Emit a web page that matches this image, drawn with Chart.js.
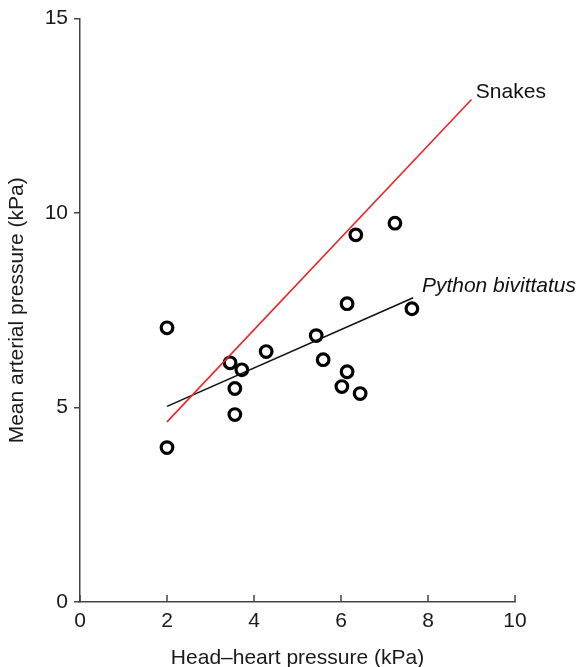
<!DOCTYPE html>
<html>
<head>
<meta charset="utf-8">
<script src="https://cdn.jsdelivr.net/npm/chart.js@4/dist/chart.umd.min.js"></script>
<style>
  body { margin: 0; background: #fff; }
  canvas { display: block; }
</style>
</head>
<body>
<canvas id="myChart" width="580" height="667"></canvas>
<script>
// measured points (kPa)
const headHeart    = [2.0, 2.0, 3.45, 3.72, 3.56, 3.56, 4.28, 5.43, 5.59, 6.14, 6.14, 6.02, 6.44, 6.34, 7.24, 7.63];
const meanArterial = [7.05, 3.97, 6.15, 5.97, 5.49, 4.82, 6.44, 6.85, 6.23, 7.67, 5.92, 5.54, 5.36, 9.44, 9.74, 7.54];

// regression lines
const snakesX = [2.0, 9.0];
const snakesY = [4.63, 12.92];
const pythonX = [2.0, 7.66];
const pythonY = [5.03, 7.82];

const xTicks = [0, 2, 4, 6, 8, 10];
const yTicks = [0, 5, 10, 15];

const lineLabels = [
  { text: 'Snakes', x: 9.1, y: 13.1, italic: false },
  { text: 'Python bivittatus', x: 7.86, y: 8.13, italic: true }
];

const toXY = (xs, ys) => xs.map((x, i) => ({ x: x, y: ys[i] }));

const axisColor = '#444';
const textColor = '#1a1a1a';
const font = 'Liberation Sans, Arial, sans-serif';
const fs = 21;

// line labels + inward x tick marks
const extras = {
  id: 'extras',
  afterDraw(chart) {
    const c = chart.ctx;
    const xs = chart.scales.x, ys = chart.scales.y;
    c.save();
    c.strokeStyle = axisColor;
    c.lineWidth = 1.5;
    xTicks.forEach(t => {
      const px = xs.getPixelForValue(t);
      c.beginPath();
      c.moveTo(px, ys.bottom);
      c.lineTo(px, ys.bottom - 7);
      c.stroke();
    });
    c.fillStyle = '#111';
    c.textBaseline = 'middle';
    c.textAlign = 'left';
    lineLabels.forEach(l => {
      c.font = (l.italic ? 'italic ' : '') + fs + 'px ' + font;
      c.fillText(l.text, xs.getPixelForValue(l.x), ys.getPixelForValue(l.y));
    });
    c.restore();
  }
};

const ctx = document.getElementById('myChart').getContext('2d');
const chart = new Chart(ctx, {
  type: 'scatter',
  data: {
    datasets: [
      {
        label: 'Snakes',
        type: 'line',
        data: toXY(snakesX, snakesY),
        borderColor: '#e8252b',
        borderWidth: 1.6,
        pointRadius: 0,
        fill: false
      },
      {
        label: 'Python bivittatus',
        type: 'line',
        data: toXY(pythonX, pythonY),
        borderColor: '#111',
        borderWidth: 1.6,
        pointRadius: 0,
        fill: false
      },
      {
        label: 'data',
        data: toXY(headHeart, meanArterial),
        backgroundColor: '#fff',
        borderColor: '#000',
        borderWidth: 3.2,
        pointRadius: 5.8
      }
    ]
  },
  options: {
    responsive: false,
    animation: false,
    devicePixelRatio: 1,
    layout: { padding: { top: 17, right: 65, left: 0, bottom: 0 } },
    plugins: { legend: { display: false }, tooltip: { enabled: false } },
    scales: {
      x: {
        type: 'linear',
        min: 0, max: 10,
        afterFit: s => { s.height = 65; },
        afterBuildTicks: s => { s.ticks = xTicks.map(v => ({ value: v })); },
        grid: { display: false, drawTicks: false },
        border: { display: true, color: axisColor, width: 1.5 },
        ticks: { color: textColor, font: { family: font, size: fs }, padding: 7 },
        title: { display: true, text: 'Head\u2013heart pressure (kPa)', color: textColor,
                 font: { family: font, size: fs }, padding: { top: 4, bottom: -4 } }
      },
      y: {
        type: 'linear',
        min: 0, max: 15,
        afterFit: s => { s.width = 80; },
        afterBuildTicks: s => { s.ticks = yTicks.map(v => ({ value: v })); },
        grid: { drawOnChartArea: false, drawTicks: true, tickLength: 6, color: axisColor, lineWidth: 1.5 },
        border: { display: true, color: axisColor, width: 1.5 },
        ticks: { color: textColor, font: { family: font, size: fs }, padding: 6 },
        title: { display: true, text: 'Mean arterial pressure (kPa)', color: textColor,
                 font: { family: font, size: fs }, padding: { top: 5, bottom: 2 } }
      }
    }
  },
  plugins: [extras]
});
</script>
</body>
</html>
